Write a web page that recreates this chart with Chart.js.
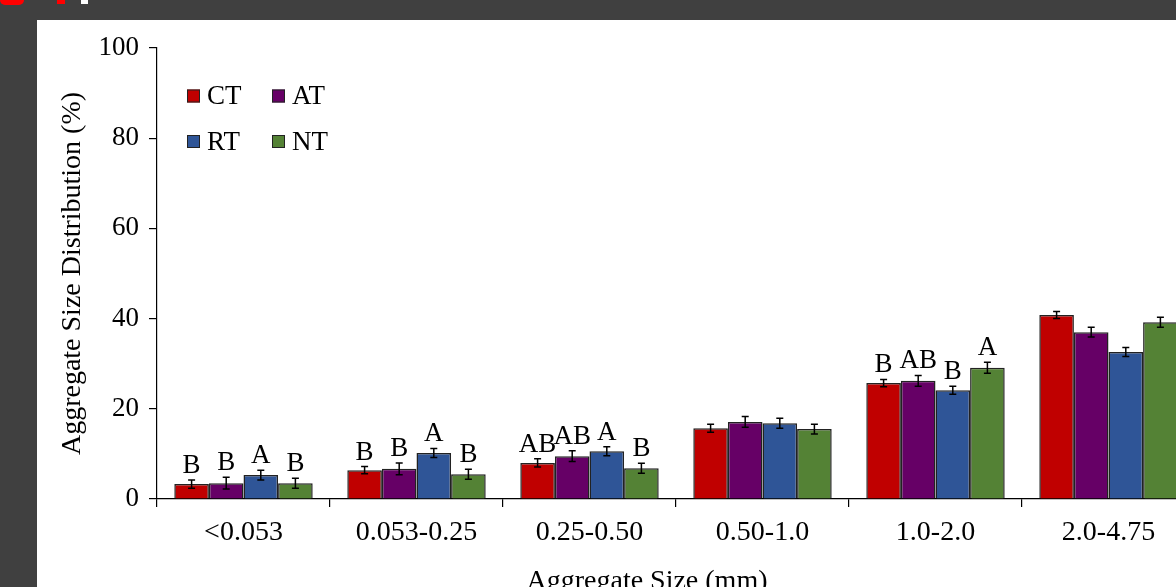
<!DOCTYPE html>
<html>
<head>
<meta charset="utf-8">
<script src="https://cdn.jsdelivr.net/npm/chart.js@4"></script>
<style>
    body { margin: 0; background: #404040; width: 1176px; height: 587px; overflow: hidden; position: relative; }
    #painel { position: absolute; left: 37px; top: 20px; width: 1139px; height: 567px; background: #fff; overflow: hidden; }
    #plot1 { position: absolute; left: 0; top: 0; }
    #titulo_x { position: absolute; left: 0; width: 1220px; top: 546px; text-align: center; font-family: "Liberation Serif", serif; font-size: 28px; line-height: 28px; color: #000; }
    .frag { position: absolute; }
</style>
</head>
<body>
<div class="frag" style="left:0;top:0;width:24px;height:5px;background:#f00;border-radius:0 0 12px 12px;"></div>
<div class="frag" style="left:57px;top:0;width:8px;height:4px;background:#f00;"></div>
<div class="frag" style="left:81px;top:0;width:7px;height:4px;background:#fff;"></div>
<div id="painel">
    <canvas id="plot1" width="1160" height="567"></canvas>
    <div id="titulo_x">Aggregate Size (mm)</div>
</div>
<script>
var categorias = ['<0.053', '0.053-0.25', '0.25-0.50', '0.50-1.0', '1.0-2.0', '2.0-4.75'];
var series = ['CT', 'AT', 'RT', 'NT'];
var cores = ['#c00000', '#660066', '#2f5597', '#548235'];

var ct = [3.3, 6.4, 8.0, 15.7, 25.7, 40.8];
var at = [3.5, 6.7, 9.5, 17.1, 26.2, 37.0];
var rt = [5.3, 10.2, 10.6, 16.8, 24.1, 32.6];
var nt = [3.5, 5.5, 6.8, 15.5, 29.1, 39.2];

var ct_err = [0.9, 0.8, 0.9, 0.9, 0.8, 0.8];
var at_err = [1.3, 1.3, 1.2, 1.2, 1.2, 1.1];
var rt_err = [1.1, 1.0, 1.0, 1.1, 0.9, 1.0];
var nt_err = [1.1, 1.1, 1.1, 1.1, 1.2, 1.1];

var ct_letras = ['B', 'B', 'AB', '', 'B', ''];
var at_letras = ['B', 'B', 'AB', '', 'AB', ''];
var rt_letras = ['A', 'A', 'A', '', 'B', ''];
var nt_letras = ['B', 'B', 'B', '', 'A', ''];

var valores = [ct, at, rt, nt];
var erros = [ct_err, at_err, rt_err, nt_err];
var letras = [ct_letras, at_letras, rt_letras, nt_letras];

var fonte = '"Liberation Serif", "Times New Roman", serif';

// barras de erro + letras de significancia
var plugin_erros = {
    id: 'erros',
    afterDatasetsDraw: function (chart) {
        var ctx = chart.ctx;
        var y = chart.scales.y;
        ctx.save();
        for (var d = 0; d < chart.data.datasets.length; d++) {
            var meta = chart.getDatasetMeta(d);
            for (var i = 0; i < meta.data.length; i++) {
                var barra = meta.data[i];
                var v = valores[d][i];
                var e = erros[d][i];
                var topo = y.getPixelForValue(v + e);
                var base = y.getPixelForValue(v - e);
                ctx.strokeStyle = '#000';
                ctx.lineWidth = 1.5;
                ctx.beginPath();
                ctx.moveTo(barra.x, topo);
                ctx.lineTo(barra.x, base);
                ctx.moveTo(barra.x - 3.5, topo);
                ctx.lineTo(barra.x + 3.5, topo);
                ctx.moveTo(barra.x - 3.5, base);
                ctx.lineTo(barra.x + 3.5, base);
                ctx.stroke();
                if (letras[d][i]) {
                    ctx.fillStyle = '#000';
                    ctx.font = '27px ' + fonte;
                    ctx.textAlign = 'center';
                    ctx.textBaseline = 'alphabetic';
                    ctx.fillText(letras[d][i], barra.x, topo - 7);
                }
            }
        }
        ctx.restore();
    }
};

// legenda em 2 colunas dentro da area do grafico
var plugin_legenda = {
    id: 'legenda2',
    afterDraw: function (chart) {
        var ctx = chart.ctx;
        var a = chart.chartArea;
        ctx.save();
        ctx.font = '27px ' + fonte;
        ctx.textBaseline = 'middle';
        ctx.textAlign = 'left';
        for (var k = 0; k < series.length; k++) {
            var col = k % 2;
            var lin = Math.floor(k / 2);
            var x = a.left + 30 + col * 85;
            var yc = a.top + 48 + lin * 45.5;
            ctx.fillStyle = cores[k];
            ctx.fillRect(x, yc - 6.5, 13, 13);
            ctx.strokeStyle = '#222';
            ctx.lineWidth = 1;
            ctx.strokeRect(x + 0.5, yc - 6, 12, 12);
            ctx.fillStyle = '#000';
            ctx.fillText(series[k], x + 20, yc + 1);
        }
        ctx.restore();
    }
};

var datasets = [];
for (var k = 0; k < series.length; k++) {
    datasets.push({
        label: series[k],
        data: valores[k],
        backgroundColor: cores[k],
        borderColor: '#222',
        borderWidth: 1.5,
        categoryPercentage: 0.8,
        barPercentage: 1.0
    });
}

var dados = {
    type: 'bar',
    data: { labels: categorias, datasets: datasets },
    options: {
        responsive: false,
        animation: false,
        layout: { padding: { left: 0, right: 2, top: 28, bottom: 28 } },
        plugins: { legend: { display: false }, tooltip: { enabled: false } },
        scales: {
            x: {
                grid: { display: true, drawOnChartArea: false, drawTicks: true, tickLength: 8, color: '#000', lineWidth: 1.2, offset: true },
                border: { display: true, color: '#000', width: 1.2 },
                ticks: { color: '#000', font: { family: fonte, size: 28 }, padding: 9, maxRotation: 0, autoSkip: false },
                afterFit: function (s) { s.height = 60; }
            },
            y: {
                min: 0,
                max: 100,
                grid: { display: true, drawOnChartArea: false, drawTicks: true, tickLength: 8, color: '#000', lineWidth: 1.2 },
                border: { display: true, color: '#000', width: 1.2 },
                ticks: { stepSize: 20, color: '#000', font: { family: fonte, size: 27 }, padding: 10 },
                title: { display: true, text: 'Aggregate Size Distribution (%)', color: '#000', font: { family: fonte, size: 28, weight: 'normal' }, padding: { top: 19, bottom: 0 } },
                afterFit: function (s) { s.width = 120; }
            }
        }
    },
    plugins: [plugin_erros, plugin_legenda]
};

var grafico = new Chart(document.getElementById('plot1'), dados);
</script>
</body>
</html>
